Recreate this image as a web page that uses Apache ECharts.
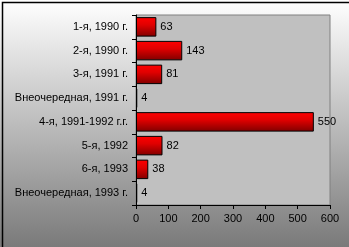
<!DOCTYPE html>
<html><head><meta charset="utf-8">
<script src="https://cdn.jsdelivr.net/npm/echarts@6/dist/echarts.min.js"></script>
<style>html,body{margin:0;padding:0;}#c{width:349px;height:247px;}</style>
</head><body><div id="c"></div>
<script>
const categories = ['1-я, 1990 г.', '2-я, 1990 г.', '3-я, 1991 г.', 'Внеочередная, 1991 г.', '4-я, 1991-1992 г.г.', '5-я, 1992', '6-я, 1993', 'Внеочередная, 1993 г.'];
const values = [63, 143, 81, 4, 550, 82, 38, 4];
const xTicks = [0, 100, 200, 300, 400, 500, 600];

const chart = echarts.init(document.getElementById('c'), null, {renderer: 'canvas'});
const font = 'Liberation Sans, Arial, sans-serif';
chart.setOption({
  backgroundColor: {type: 'linear', x: 0, y: 0, x2: 0, y2: 1, colorStops: [{offset: 0, color: '#ffffff'}, {offset: 1, color: '#7a7a7a'}]},
  animation: false,
  grid: {left: 136, right: 19, top: 15, bottom: 42, show: true, backgroundColor: '#c0c0c0', borderColor: '#808080', borderWidth: 1},
  xAxis: {
    type: 'value', min: xTicks[0], max: xTicks[xTicks.length - 1], interval: 100,
    axisLine: {show: true, lineStyle: {color: '#000', width: 1}},
    axisTick: {show: true, length: 4, lineStyle: {color: '#000'}},
    axisLabel: {color: '#000', fontSize: 11, fontFamily: font, margin: 8},
    splitLine: {show: false}
  },
  yAxis: {
    type: 'category', data: categories, inverse: true,
    axisLine: {show: true, lineStyle: {color: '#000', width: 1}},
    axisTick: {show: true, length: 4, lineStyle: {color: '#000'}},
    axisLabel: {color: '#000', fontSize: 11, fontFamily: font, margin: 8}
  },
  series: [{
    type: 'bar', data: values, barCategoryGap: '18%',
    itemStyle: {
      color: {type: 'linear', x: 0, y: 0, x2: 0, y2: 1, colorStops: [{offset: 0, color: '#ff0000'}, {offset: 0.4, color: '#e00000'}, {offset: 1, color: '#800000'}]},
      borderColor: '#000', borderWidth: 1
    },
    label: {show: true, position: 'right', distance: 4, color: '#000', fontSize: 11, fontFamily: font}
  }],
  graphic: [{type: 'rect', left: 0, top: 0, shape: {x: 0.5, y: 0.5, width: 348, height: 246}, style: {fill: 'none', stroke: '#000', lineWidth: 1.5}, silent: true}]
});
</script></body></html>
